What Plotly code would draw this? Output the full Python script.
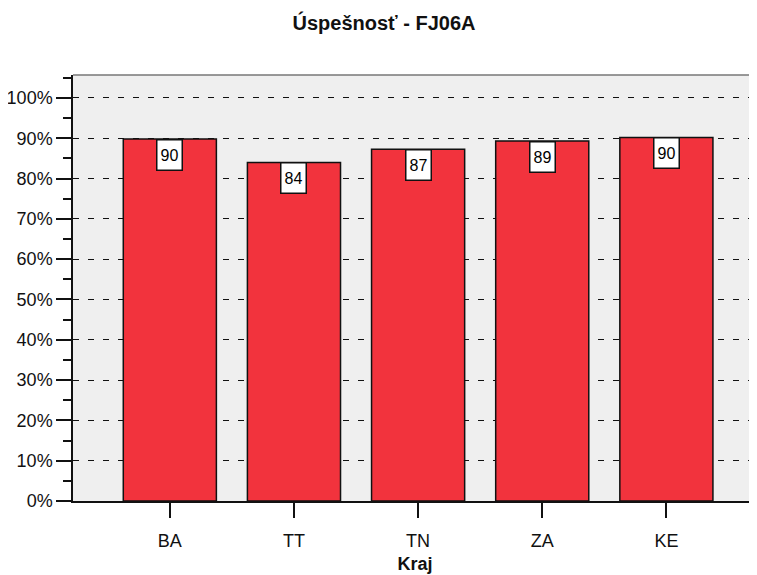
import plotly.graph_objects as go

categories = ["BA", "TT", "TN", "ZA", "KE"]
values = [89.8, 84.0, 87.3, 89.3, 90.2]
labels = [str(round(v)) for v in values]
title_text = "Úspešnosť - FJ06A"
x_title = "Kraj"

FONT = "Liberation Sans, Arial, sans-serif"
BAR = "#f2333d"

W, H = 749, 567

fig = go.Figure()
fig.add_trace(go.Bar(
    x=categories, y=values,
    marker=dict(color=BAR, line=dict(color="#111111", width=1.5)),
    width=0.75, hoverinfo="skip", showlegend=False,
))

for c, v, t in zip(categories, values, labels):
    fig.add_annotation(
        x=c, y=v, xref="x", yref="y", text=t, showarrow=False,
        yanchor="top", xanchor="center",
        font=dict(family=FONT, size=16, color="black"),
        bgcolor="white", bordercolor="#111111", borderwidth=1.5,
        borderpad=2, width=20, height=25,
    )

fig.update_layout(
    width=W, height=H,
    margin=dict(l=65, r=0, t=67, b=74),
    paper_bgcolor="white", plot_bgcolor="#efefef",
    font=dict(family=FONT, size=18, color="#111111"),
    title=dict(text="<b>" + title_text + "</b>", x=376 / W, xanchor="center", xref="container",
               y=1 - 15 / H, yanchor="middle", yref="container",
               font=dict(family=FONT, size=20, color="#111111")),
    bargap=0.25,
)

fig.update_xaxes(
    range=[-0.78, 4.73], showline=True, linecolor="#111111", linewidth=1.5,
    ticks="outside", ticklen=15, tickwidth=1.5, tickcolor="#111111",
    showgrid=False, tickfont=dict(size=18), ticklabelstandoff=8, automargin=False,
    title=dict(text="<b>" + x_title + "</b>", standoff=7, font=dict(size=18)),
)

fig.update_yaxes(
    range=[0, 105.7], dtick=10, tick0=0, ticksuffix="%",
    showline=True, linecolor="#111111", linewidth=1.5,
    ticks="outside", ticklen=15, tickwidth=1.5, tickcolor="#111111",
    minor=dict(dtick=5, ticks="outside", ticklen=8, tickwidth=1.5, tickcolor="#111111", showgrid=False),
    showgrid=True, gridcolor="#111111", gridwidth=1, griddash="6px,9px",
    zeroline=False, tickfont=dict(size=18), automargin=False,
)

fig.add_shape(type="line", xref="paper", yref="paper", x0=0, x1=1, y0=1, y1=1,
              line=dict(color="#777777", width=1.5))

fig.write_html("out.html")
